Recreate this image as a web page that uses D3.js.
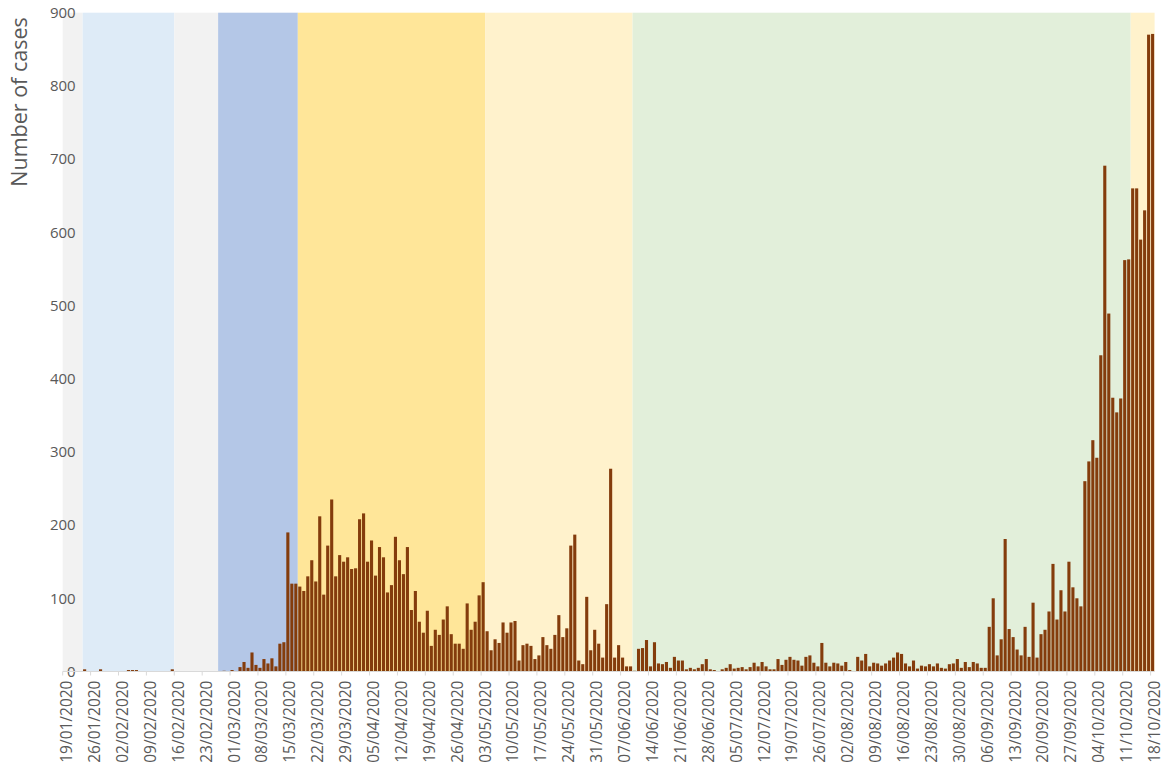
<!DOCTYPE html>
<html>
<head>
<meta charset="utf-8">
<script src="https://cdn.jsdelivr.net/npm/d3@7"></script>
<style>
  html, body { margin: 0; padding: 0; background: #fff; }
  svg { display: block; font-family: "Open Sans", "DejaVu Sans", sans-serif; }
</style>
</head>
<body>
<div id="chart"></div>
<script>
// Daily cases, one array per month (19/01/2020 - 18/10/2020)
var casesJan = [0, 0, 0, 0, 0, 3, 0, 0, 0, 3, 0, 0, 0];
var casesFeb = [0, 0, 0, 2, 2, 2, 0, 0, 0, 0, 0, 0, 0, 0, 3, 0, 0, 0, 0, 0, 0, 0, 0, 0, 0, 0, 0, 1, 0];
var casesMar = [2, 0, 6, 13, 5, 26, 9, 5, 17, 11, 18, 7, 38, 40, 190, 120, 120, 116, 110, 130, 152, 123, 212, 105, 172, 235, 130, 159, 150, 156, 140];
var casesApr = [141, 208, 216, 150, 179, 131, 170, 156, 108, 118, 184, 152, 133, 170, 84, 110, 68, 53, 83, 35, 57, 50, 71, 89, 51, 38, 38, 31, 93, 57];
var casesMay = [68, 104, 122, 55, 29, 44, 39, 67, 53, 67, 69, 15, 36, 38, 35, 17, 22, 47, 36, 31, 50, 77, 47, 59, 172, 187, 15, 10, 102, 29, 57];
var casesJun = [38, 19, 92, 277, 19, 36, 19, 7, 7, 1, 31, 32, 43, 7, 40, 11, 10, 13, 5, 20, 15, 15, 3, 5, 3, 5, 10, 17, 3, 2];
var casesJul = [0, 3, 5, 10, 4, 5, 6, 3, 6, 12, 7, 13, 7, 3, 3, 17, 9, 16, 20, 16, 15, 8, 20, 22, 12, 7, 39, 12, 7, 12, 11];
var casesAug = [8, 13, 2, 0, 20, 15, 24, 7, 12, 11, 8, 11, 15, 19, 26, 24, 11, 7, 15, 4, 8, 7, 10, 7, 11, 5, 4, 10, 11, 17, 5];
var casesSep = [13, 6, 13, 11, 5, 5, 61, 100, 22, 44, 181, 58, 47, 30, 22, 61, 20, 94, 19, 51, 57, 82, 147, 71, 111, 82, 150, 115, 100, 89];
var casesOct = [260, 287, 316, 292, 432, 691, 489, 374, 354, 373, 562, 563, 660, 660, 590, 630, 870, 871];

// Background phases: first day of each phase
var phaseStarts = ['19/01/2020', '24/01/2020', '16/02/2020', '27/02/2020', '18/03/2020', '04/05/2020', '10/06/2020', '13/10/2020'];
var phaseColors = ['#f2f2f2', '#deebf7', '#f2f2f2', '#b4c7e7', '#ffe699', '#fff2cc', '#e2efda', '#fff2cc'];

var yTicks = [0, 100, 200, 300, 400, 500, 600, 700, 800, 900];

var width = 1164, height = 764;
var plotLeft = 62.7, plotRight = 1154.6, plotTop = 12.7, plotBottom = 671.5;

var fmt = d3.timeFormat('%d/%m/%Y');
var days = d3.timeDay.range(new Date(2020, 0, 19), new Date(2020, 9, 19));
var cases = [].concat(casesJan, casesFeb, casesMar, casesApr, casesMay, casesJun,
                      casesJul, casesAug, casesSep, casesOct);
var data = days.map(function(d, i) { return { key: fmt(d), value: cases[i] }; });
var keys = data.map(function(d) { return d.key; });

var x = d3.scaleBand()
    .domain(keys)
    .range([plotLeft, plotRight])
    .paddingInner(0.22)
    .paddingOuter(0.11);
var step = x.step();
function slotLeft(k) { return x(k) - step * 0.11; }

var y = d3.scaleLinear().domain([0, 900]).range([plotBottom, plotTop]);

var svg = d3.select('#chart').append('svg')
    .attr('width', width)
    .attr('height', height);

// phase bands
svg.append('g').selectAll('rect')
    .data(phaseStarts)
    .enter().append('rect')
    .attr('x', function(d) { return slotLeft(d); })
    .attr('y', plotTop)
    .attr('width', function(d, i) {
        var end = i < phaseStarts.length - 1 ? slotLeft(phaseStarts[i + 1]) : plotRight;
        return end - slotLeft(d);
    })
    .attr('height', plotBottom - plotTop)
    .attr('fill', function(d, i) { return phaseColors[i]; });

// bars
svg.append('g').selectAll('rect')
    .data(data)
    .enter().append('rect')
    .attr('x', function(d) { return x(d.key); })
    .attr('width', x.bandwidth())
    .attr('y', function(d) { return y(d.value); })
    .attr('height', function(d) { return plotBottom - y(d.value); })
    .attr('fill', '#843c0c');

// y axis
var yAxis = svg.append('g')
    .attr('transform', 'translate(' + plotLeft + ',0)')
    .call(d3.axisLeft(y).tickValues(yTicks).tickSize(0).tickPadding(-13));
yAxis.select('.domain').remove();
yAxis.selectAll('text')
    .attr('fill', '#595959')
    .style('font-size', '15px')
    .style('font-family', '"Open Sans", sans-serif');

// x axis: one label every 7 days
var weekly = keys.filter(function(k, i) { return i % 7 === 0; });
var xAxis = svg.append('g')
    .attr('transform', 'translate(0,' + plotBottom + ')')
    .call(d3.axisBottom(x).tickValues(weekly).tickSize(4).tickSizeOuter(0));
xAxis.select('.domain')
    .attr('d', 'M' + plotLeft + ',0H' + plotRight)
    .attr('stroke', '#d9d9d9');
xAxis.selectAll('.tick line')
    .attr('x1', -step / 2).attr('x2', -step / 2)
    .attr('stroke', '#d9d9d9');
xAxis.selectAll('.tick text')
    .attr('fill', '#595959')
    .style('font-size', '15.5px')
    .style('font-family', '"Open Sans", sans-serif')
    .attr('text-anchor', 'end')
    .attr('transform', 'translate(2,9) rotate(-90)')
    .attr('x', 0)
    .attr('y', 0)
    .attr('dy', '0.35em');

// y title
svg.append('text')
    .attr('transform', 'translate(27,102) rotate(-90)')
    .attr('text-anchor', 'middle')
    .attr('fill', '#595959')
    .style('font-size', '21.5px')
    .text('Number of cases');
</script>
</body>
</html>
